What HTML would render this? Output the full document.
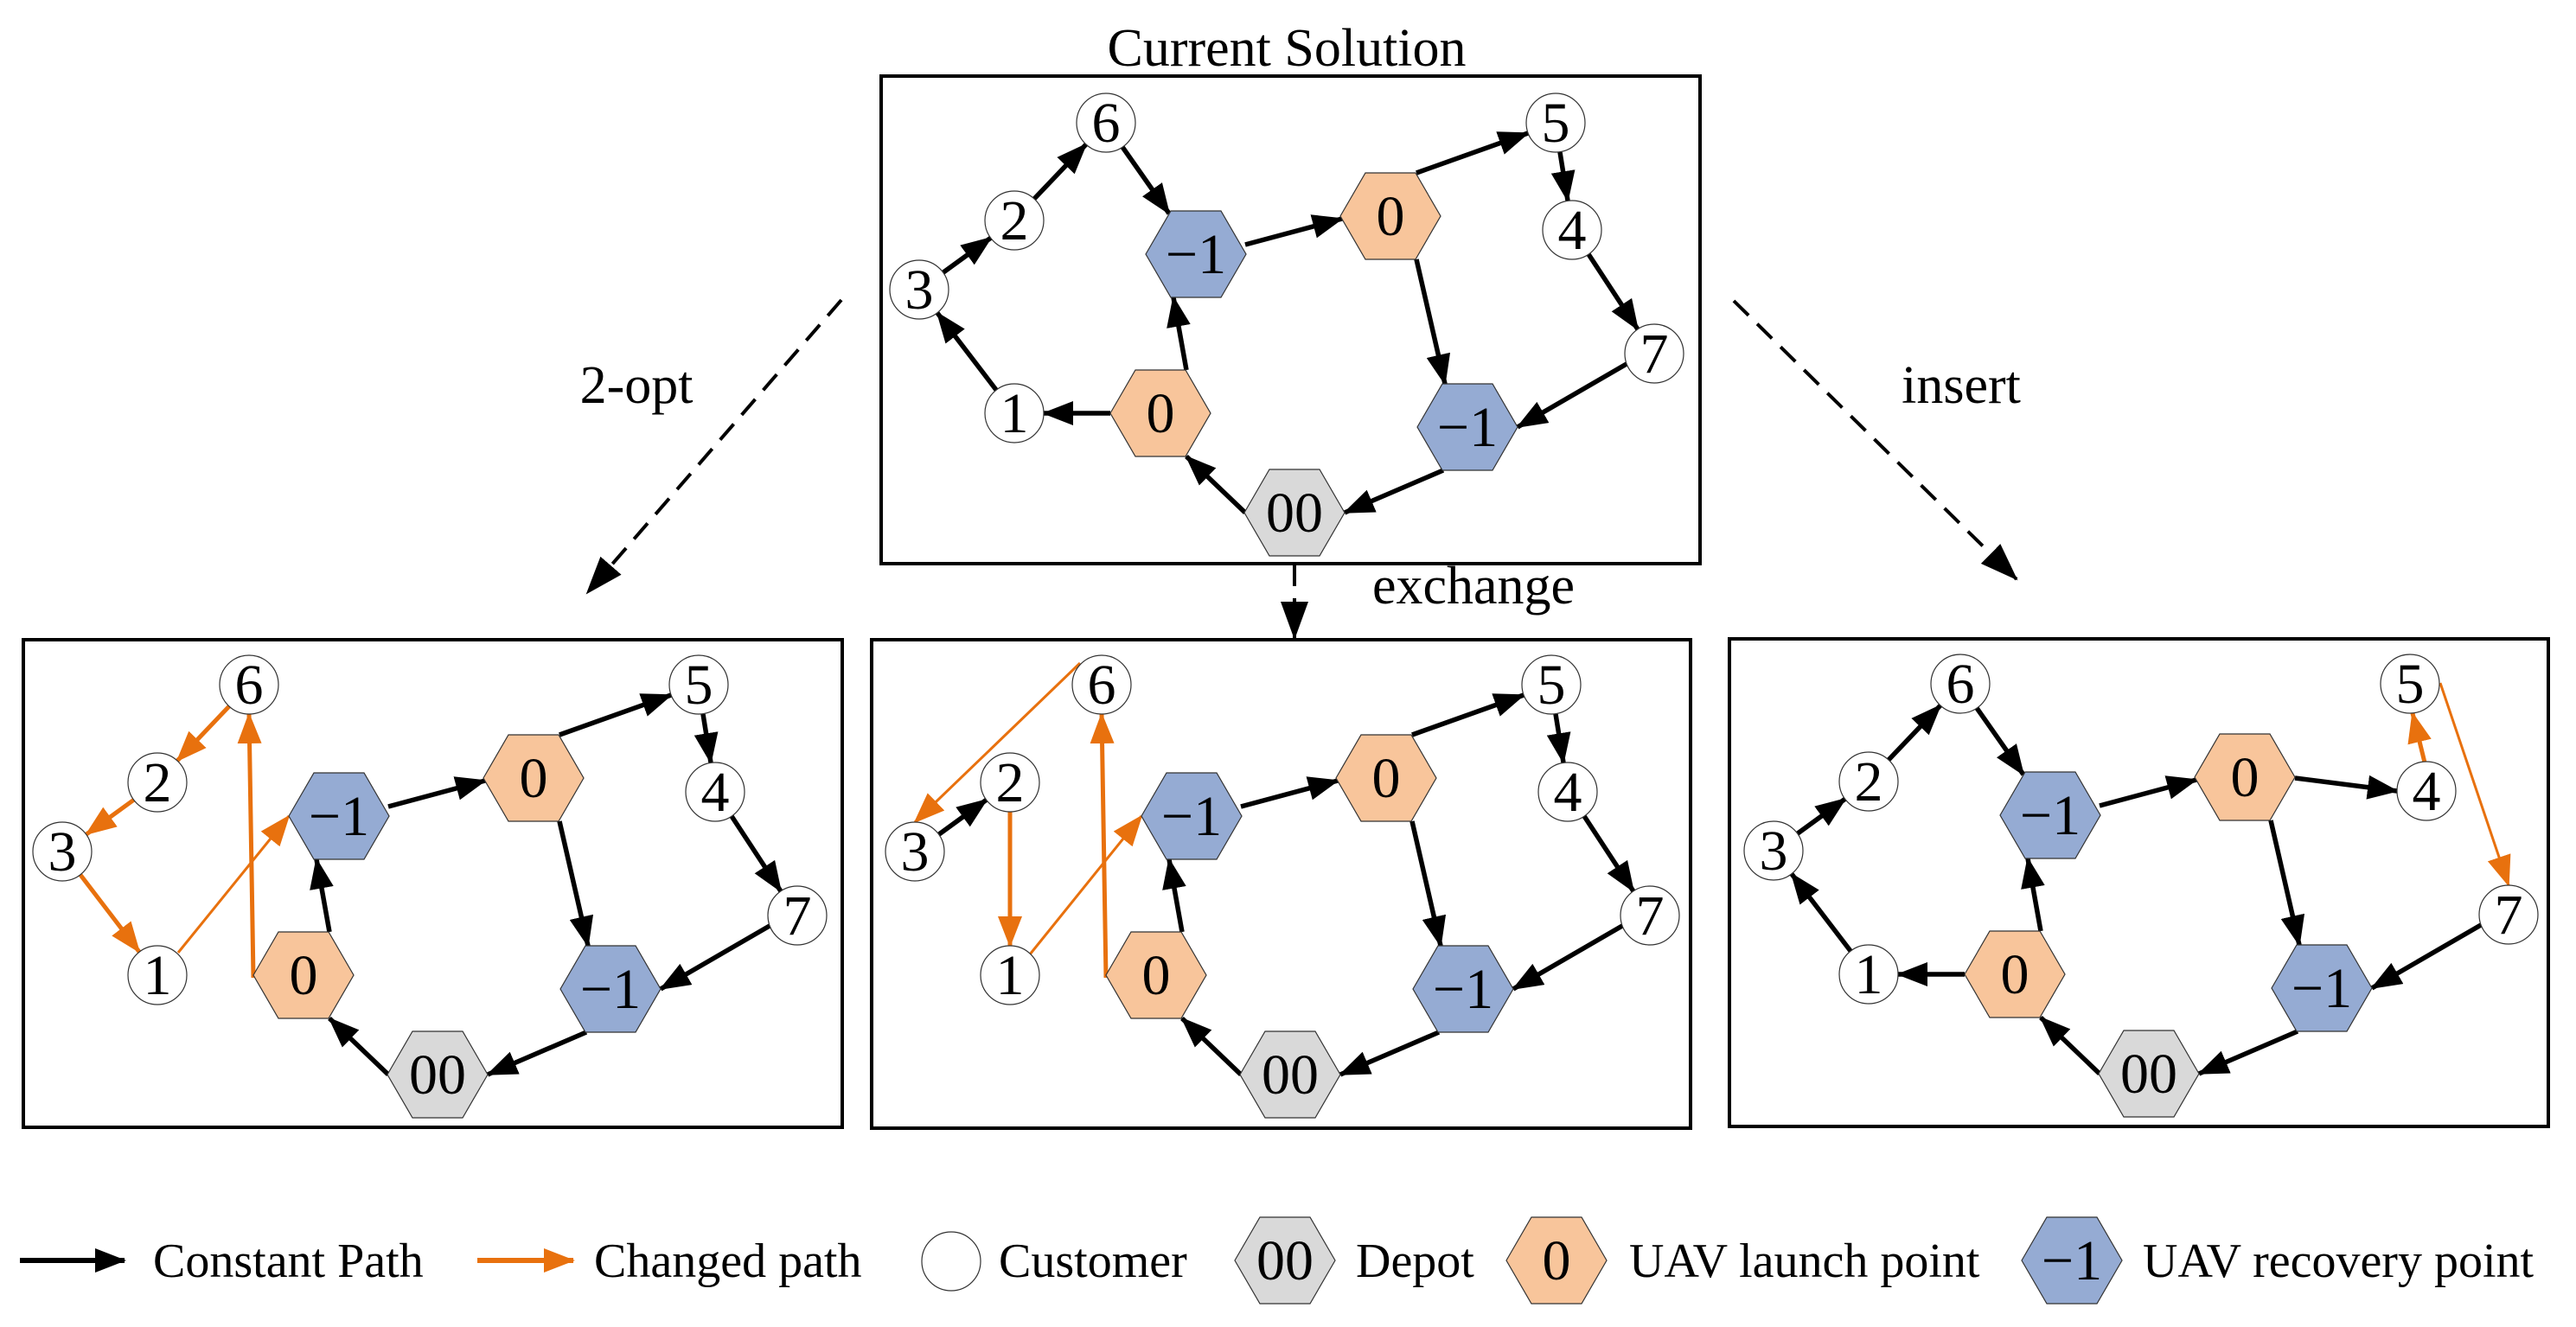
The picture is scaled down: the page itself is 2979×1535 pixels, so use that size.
<!DOCTYPE html>
<html><head><meta charset="utf-8"><style>
html,body{margin:0;padding:0;background:#fff;}
svg{display:block;}
text{font-family:"Liberation Serif",serif;}
.n text{font-size:66px;}
</style></head><body>
<svg width="2979" height="1535" viewBox="0 0 2979 1535" xmlns="http://www.w3.org/2000/svg">
<defs>
<marker id="ab" markerUnits="userSpaceOnUse" markerWidth="36" markerHeight="28" refX="34" refY="14" orient="auto"><path d="M0,0 L36,14 L0,28 z" fill="#000"/></marker>
<marker id="ao" markerUnits="userSpaceOnUse" markerWidth="36" markerHeight="28" refX="34" refY="14" orient="auto"><path d="M0,0 L36,14 L0,28 z" fill="#E8710E"/></marker>
<marker id="ad" markerUnits="userSpaceOnUse" markerWidth="44" markerHeight="32" refX="42" refY="16" orient="auto"><path d="M0,0 L44,16 L0,32 z" fill="#000"/></marker>
</defs>
<g font-size="62" text-anchor="middle">
<text x="1488" y="76">Current Solution</text>
<text x="736" y="466">2-opt</text>
<text x="1704" y="698">exchange</text>
<text x="2268" y="466">insert</text>
</g>
<g stroke="#000" stroke-width="4" stroke-dasharray="24,14" fill="none">
<line x1="973" y1="347" x2="679" y2="686" marker-end="url(#ad)"/>
<line x1="2005" y1="348" x2="2332" y2="670" marker-end="url(#ad)"/>
<line x1="1497" y1="654" x2="1497" y2="738" marker-end="url(#ad)"/>
</g>
<g fill="none" stroke="#000" stroke-width="4">
<rect x="1019" y="88" width="947" height="564"/>
<rect x="27" y="740" width="947" height="564"/>
<rect x="1008" y="740" width="947" height="565"/>
<rect x="2000" y="739" width="947" height="564"/>
</g>

<!-- TOP -->
<g transform="translate(1497,593)">
<g stroke="#000" stroke-width="5.5" marker-end="url(#ab)">
<line x1="-57" y1="-310" x2="55" y2="-340"/>
<line x1="141" y1="-293" x2="174" y2="-149"/>
<line x1="172" y1="-49" x2="58" y2="0"/>
<line x1="-57" y1="0" x2="-125" y2="-65"/>
<line x1="-125" y1="-165" x2="-140" y2="-249"/>
<line x1="384" y1="-172" x2="258" y2="-99"/>
<line x1="340" y1="-299" x2="397" y2="-212"/>
<line x1="307" y1="-417" x2="316" y2="-361"/>
<line x1="141" y1="-393" x2="270" y2="-439"/>
<line x1="-345" y1="-142" x2="-413" y2="-231"/>
<line x1="-406" y1="-278" x2="-351" y2="-318"/>
<line x1="-301" y1="-363" x2="-241" y2="-426"/>
<line x1="-199" y1="-423" x2="-145" y2="-346"/>
<line x1="-213" y1="-115" x2="-290" y2="-115"/>
</g>
<g stroke="#333" stroke-width="1.2">
<circle cx="-218" cy="-451" r="34" fill="#fff"/><circle cx="-324" cy="-338" r="34" fill="#fff"/><circle cx="-434" cy="-258" r="34" fill="#fff"/><circle cx="-324" cy="-115" r="34" fill="#fff"/><circle cx="302" cy="-451" r="34" fill="#fff"/><circle cx="321" cy="-327" r="34" fill="#fff"/><circle cx="416" cy="-184" r="34" fill="#fff"/>
<polygon transform="translate(-114,-299)" points="-58,0 -29,-50 29,-50 58,0 29,50 -29,50" fill="#95ABD3"/>
<polygon transform="translate(111,-343)" points="-58,0 -29,-50 29,-50 58,0 29,50 -29,50" fill="#F8C59B"/>
<polygon transform="translate(-155,-115)" points="-58,0 -29,-50 29,-50 58,0 29,50 -29,50" fill="#F8C59B"/>
<polygon transform="translate(200,-99)" points="-58,0 -29,-50 29,-50 58,0 29,50 -29,50" fill="#95ABD3"/>
<polygon points="-58,0 -29,-50 29,-50 58,0 29,50 -29,50" fill="#D9D9D9"/>
</g>
<g class="n" text-anchor="middle">
<text x="-218" y="-429">6</text><text x="-324" y="-316">2</text><text x="-434" y="-236">3</text><text x="-324" y="-93">1</text><text x="302" y="-429">5</text><text x="321" y="-305">4</text><text x="416" y="-162">7</text>
<text x="-114" y="-277">−1</text><text x="111" y="-321">0</text><text x="-155" y="-93">0</text><text x="200" y="-77">−1</text><text x="0" y="22">00</text>
</g>
</g>

<!-- BOTTOM LEFT -->
<g transform="translate(506,1243)">
<g stroke="#000" stroke-width="5.5" marker-end="url(#ab)">
<line x1="-57" y1="-310" x2="55" y2="-340"/>
<line x1="141" y1="-293" x2="174" y2="-149"/>
<line x1="172" y1="-49" x2="58" y2="0"/>
<line x1="-57" y1="0" x2="-125" y2="-65"/>
<line x1="-125" y1="-165" x2="-140" y2="-249"/>
<line x1="384" y1="-172" x2="258" y2="-99"/>
<line x1="340" y1="-299" x2="397" y2="-212"/>
<line x1="307" y1="-417" x2="316" y2="-361"/>
<line x1="141" y1="-393" x2="270" y2="-439"/>
</g>
<g stroke="#E8710E" stroke-width="5" marker-end="url(#ao)">
<line x1="-241" y1="-426" x2="-301" y2="-363"/>
<line x1="-351" y1="-318" x2="-406" y2="-278"/>
<line x1="-413" y1="-231" x2="-345" y2="-142"/>
<line x1="-213" y1="-112" x2="-218" y2="-417"/>
<line x1="-300" y1="-141" x2="-172" y2="-299" stroke-width="3"/>
</g>
<g stroke="#333" stroke-width="1.2">
<circle cx="-218" cy="-451" r="34" fill="#fff"/><circle cx="-324" cy="-338" r="34" fill="#fff"/><circle cx="-434" cy="-258" r="34" fill="#fff"/><circle cx="-324" cy="-115" r="34" fill="#fff"/><circle cx="302" cy="-451" r="34" fill="#fff"/><circle cx="321" cy="-327" r="34" fill="#fff"/><circle cx="416" cy="-184" r="34" fill="#fff"/>
<polygon transform="translate(-114,-299)" points="-58,0 -29,-50 29,-50 58,0 29,50 -29,50" fill="#95ABD3"/>
<polygon transform="translate(111,-343)" points="-58,0 -29,-50 29,-50 58,0 29,50 -29,50" fill="#F8C59B"/>
<polygon transform="translate(-155,-115)" points="-58,0 -29,-50 29,-50 58,0 29,50 -29,50" fill="#F8C59B"/>
<polygon transform="translate(200,-99)" points="-58,0 -29,-50 29,-50 58,0 29,50 -29,50" fill="#95ABD3"/>
<polygon points="-58,0 -29,-50 29,-50 58,0 29,50 -29,50" fill="#D9D9D9"/>
</g>
<g class="n" text-anchor="middle">
<text x="-218" y="-429">6</text><text x="-324" y="-316">2</text><text x="-434" y="-236">3</text><text x="-324" y="-93">1</text><text x="302" y="-429">5</text><text x="321" y="-305">4</text><text x="416" y="-162">7</text>
<text x="-114" y="-277">−1</text><text x="111" y="-321">0</text><text x="-155" y="-93">0</text><text x="200" y="-77">−1</text><text x="0" y="22">00</text>
</g>
</g>

<!-- BOTTOM MIDDLE -->
<g transform="translate(1492,1243)">
<g stroke="#000" stroke-width="5.5" marker-end="url(#ab)">
<line x1="-57" y1="-310" x2="55" y2="-340"/>
<line x1="141" y1="-293" x2="174" y2="-149"/>
<line x1="172" y1="-49" x2="58" y2="0"/>
<line x1="-57" y1="0" x2="-125" y2="-65"/>
<line x1="-125" y1="-165" x2="-140" y2="-249"/>
<line x1="384" y1="-172" x2="258" y2="-99"/>
<line x1="340" y1="-299" x2="397" y2="-212"/>
<line x1="307" y1="-417" x2="316" y2="-361"/>
<line x1="141" y1="-393" x2="270" y2="-439"/>
<line x1="-406" y1="-278" x2="-351" y2="-318"/>
</g>
<g stroke="#E8710E" stroke-width="5" marker-end="url(#ao)">
<line x1="-324" y1="-304" x2="-324" y2="-149"/>
<line x1="-213" y1="-112" x2="-218" y2="-417"/>
<line x1="-243" y1="-476" x2="-434" y2="-292" stroke-width="3"/>
<line x1="-301" y1="-139" x2="-172" y2="-299" stroke-width="3"/>
</g>
<g stroke="#333" stroke-width="1.2">
<circle cx="-218" cy="-451" r="34" fill="#fff"/><circle cx="-324" cy="-338" r="34" fill="#fff"/><circle cx="-434" cy="-258" r="34" fill="#fff"/><circle cx="-324" cy="-115" r="34" fill="#fff"/><circle cx="302" cy="-451" r="34" fill="#fff"/><circle cx="321" cy="-327" r="34" fill="#fff"/><circle cx="416" cy="-184" r="34" fill="#fff"/>
<polygon transform="translate(-114,-299)" points="-58,0 -29,-50 29,-50 58,0 29,50 -29,50" fill="#95ABD3"/>
<polygon transform="translate(111,-343)" points="-58,0 -29,-50 29,-50 58,0 29,50 -29,50" fill="#F8C59B"/>
<polygon transform="translate(-155,-115)" points="-58,0 -29,-50 29,-50 58,0 29,50 -29,50" fill="#F8C59B"/>
<polygon transform="translate(200,-99)" points="-58,0 -29,-50 29,-50 58,0 29,50 -29,50" fill="#95ABD3"/>
<polygon points="-58,0 -29,-50 29,-50 58,0 29,50 -29,50" fill="#D9D9D9"/>
</g>
<g class="n" text-anchor="middle">
<text x="-218" y="-429">6</text><text x="-324" y="-316">2</text><text x="-434" y="-236">3</text><text x="-324" y="-93">1</text><text x="302" y="-429">5</text><text x="321" y="-305">4</text><text x="416" y="-162">7</text>
<text x="-114" y="-277">−1</text><text x="111" y="-321">0</text><text x="-155" y="-93">0</text><text x="200" y="-77">−1</text><text x="0" y="22">00</text>
</g>
</g>

<!-- BOTTOM RIGHT -->
<g transform="translate(2485,1242)">
<g stroke="#000" stroke-width="5.5" marker-end="url(#ab)">
<line x1="-57" y1="-310" x2="55" y2="-340"/>
<line x1="141" y1="-293" x2="174" y2="-149"/>
<line x1="172" y1="-49" x2="58" y2="0"/>
<line x1="-57" y1="0" x2="-125" y2="-65"/>
<line x1="-125" y1="-165" x2="-140" y2="-249"/>
<line x1="384" y1="-172" x2="258" y2="-99"/>
<line x1="169" y1="-342" x2="287" y2="-327"/>
<line x1="-345" y1="-142" x2="-413" y2="-231"/>
<line x1="-406" y1="-278" x2="-351" y2="-318"/>
<line x1="-301" y1="-363" x2="-241" y2="-426"/>
<line x1="-199" y1="-423" x2="-145" y2="-346"/>
<line x1="-213" y1="-115" x2="-290" y2="-115"/>
</g>
<g stroke="#E8710E" stroke-width="5" marker-end="url(#ao)">
<line x1="319" y1="-360" x2="305" y2="-417"/>
<line x1="337" y1="-452" x2="416" y2="-218" stroke-width="3"/>
</g>
<g stroke="#333" stroke-width="1.2">
<circle cx="-218" cy="-451" r="34" fill="#fff"/><circle cx="-324" cy="-338" r="34" fill="#fff"/><circle cx="-434" cy="-258" r="34" fill="#fff"/><circle cx="-324" cy="-115" r="34" fill="#fff"/><circle cx="302" cy="-451" r="34" fill="#fff"/><circle cx="321" cy="-327" r="34" fill="#fff"/><circle cx="416" cy="-184" r="34" fill="#fff"/>
<polygon transform="translate(-114,-299)" points="-58,0 -29,-50 29,-50 58,0 29,50 -29,50" fill="#95ABD3"/>
<polygon transform="translate(111,-343)" points="-58,0 -29,-50 29,-50 58,0 29,50 -29,50" fill="#F8C59B"/>
<polygon transform="translate(-155,-115)" points="-58,0 -29,-50 29,-50 58,0 29,50 -29,50" fill="#F8C59B"/>
<polygon transform="translate(200,-99)" points="-58,0 -29,-50 29,-50 58,0 29,50 -29,50" fill="#95ABD3"/>
<polygon points="-58,0 -29,-50 29,-50 58,0 29,50 -29,50" fill="#D9D9D9"/>
</g>
<g class="n" text-anchor="middle">
<text x="-218" y="-429">6</text><text x="-324" y="-316">2</text><text x="-434" y="-236">3</text><text x="-324" y="-93">1</text><text x="302" y="-429">5</text><text x="321" y="-305">4</text><text x="416" y="-162">7</text>
<text x="-114" y="-277">−1</text><text x="111" y="-321">0</text><text x="-155" y="-93">0</text><text x="200" y="-77">−1</text><text x="0" y="22">00</text>
</g>
</g>

<!-- LEGEND -->
<line x1="23" y1="1458" x2="144" y2="1458" stroke="#000" stroke-width="6" marker-end="url(#ab)"/>
<line x1="552" y1="1458" x2="663" y2="1458" stroke="#E8710E" stroke-width="6" marker-end="url(#ao)"/>
<circle cx="1100" cy="1459" r="34" fill="#fff" stroke="#333" stroke-width="1.2"/>
<g stroke="#333" stroke-width="1.2">
<polygon transform="translate(1486,1458)" points="-58,0 -29,-50 29,-50 58,0 29,50 -29,50" fill="#D9D9D9"/>
<polygon transform="translate(1800,1458)" points="-58,0 -29,-50 29,-50 58,0 29,50 -29,50" fill="#F8C59B"/>
<polygon transform="translate(2396,1458)" points="-58,0 -29,-50 29,-50 58,0 29,50 -29,50" fill="#95ABD3"/>
</g>
<g class="n" text-anchor="middle">
<text x="1486" y="1480">00</text><text x="1800" y="1480">0</text><text x="2396" y="1480">−1</text>
</g>
<g font-size="56">
<text x="177" y="1477">Constant Path</text>
<text x="687" y="1477">Changed path</text>
<text x="1155" y="1477">Customer</text>
<text x="1568" y="1477">Depot</text>
<text x="1884" y="1477">UAV launch point</text>
<text x="2478" y="1477">UAV recovery point</text>
</g>
</svg>
</body></html>
